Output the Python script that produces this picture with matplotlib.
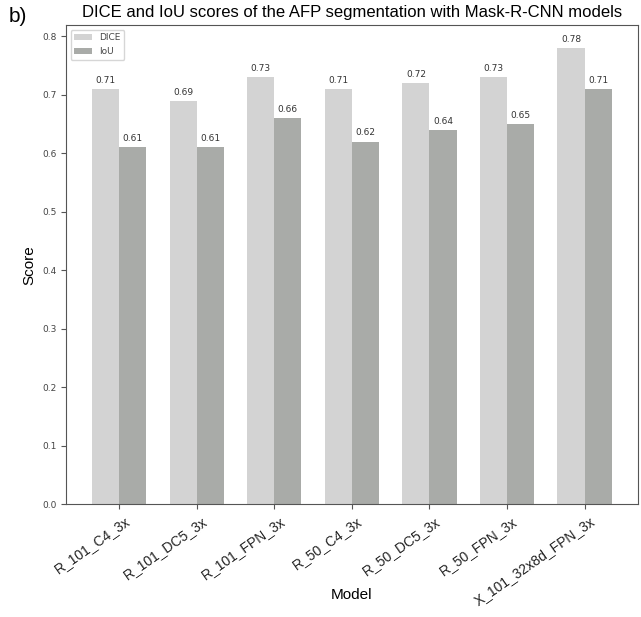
import numpy as np
import matplotlib.pyplot as plt
import matplotlib.transforms as mtransforms

models = ["R_101_C4_3x", "R_101_DC5_3x", "R_101_FPN_3x", "R_50_C4_3x",
          "R_50_DC5_3x", "R_50_FPN_3x", "X_101_32x8d_FPN_3x"]
dice = [0.71, 0.69, 0.73, 0.71, 0.72, 0.73, 0.78]
iou = [0.61, 0.61, 0.66, 0.62, 0.64, 0.65, 0.71]

sans = ["Liberation Sans", "DejaVu Sans"]

fig = plt.figure(figsize=(6.41, 6.17), dpi=100)
ax = fig.add_axes([0.103, 0.183, 0.892, 0.776])

x = np.arange(len(models))
w = 0.35
b1 = ax.bar(x - w / 2, dice, w, color="#d3d3d3", label="DICE")
b2 = ax.bar(x + w / 2, iou, w, color="#a9aba8", label="IoU")

for bars in (b1, b2):
    for b in bars:
        ax.annotate("{:.2f}".format(b.get_height()),
                    (b.get_x() + b.get_width() / 2, b.get_height()),
                    xytext=(0, 3), textcoords="offset points",
                    ha="center", va="bottom", fontsize=6.5, color="#333333")

ax.set_xticks(x)
ax.set_xticklabels(models, rotation=35, ha="right", rotation_mode="anchor",
                   fontsize=10, family=sans, color="#222222")
offset = mtransforms.ScaledTranslation(5 / 100, 0, fig.dpi_scale_trans)
for lbl in ax.get_xticklabels():
    lbl.set_transform(lbl.get_transform() + offset)

ax.tick_params(axis="y", labelsize=6.5, labelcolor="#444444", color="#555555")
ax.tick_params(axis="x", color="#555555")
for s in ax.spines.values():
    s.set_color("#555555")

ax.set_xlabel("Model", fontsize=11, family=sans, va="center")
ax.xaxis.set_label_coords(0.5, -0.19)
ax.set_ylabel("Score", fontsize=11, family=sans)
ax.set_title("DICE and IoU scores of the AFP segmentation with Mask-R-CNN models",
             fontsize=12, family=sans, pad=6)
fig.text(0.013, 0.973, "b)", fontsize=15, family=sans, va="center")

leg = ax.legend(loc="upper left", fontsize=6.5)
for t in leg.get_texts():
    t.set_color("#444444")

plt.savefig("out.png", dpi=100)
